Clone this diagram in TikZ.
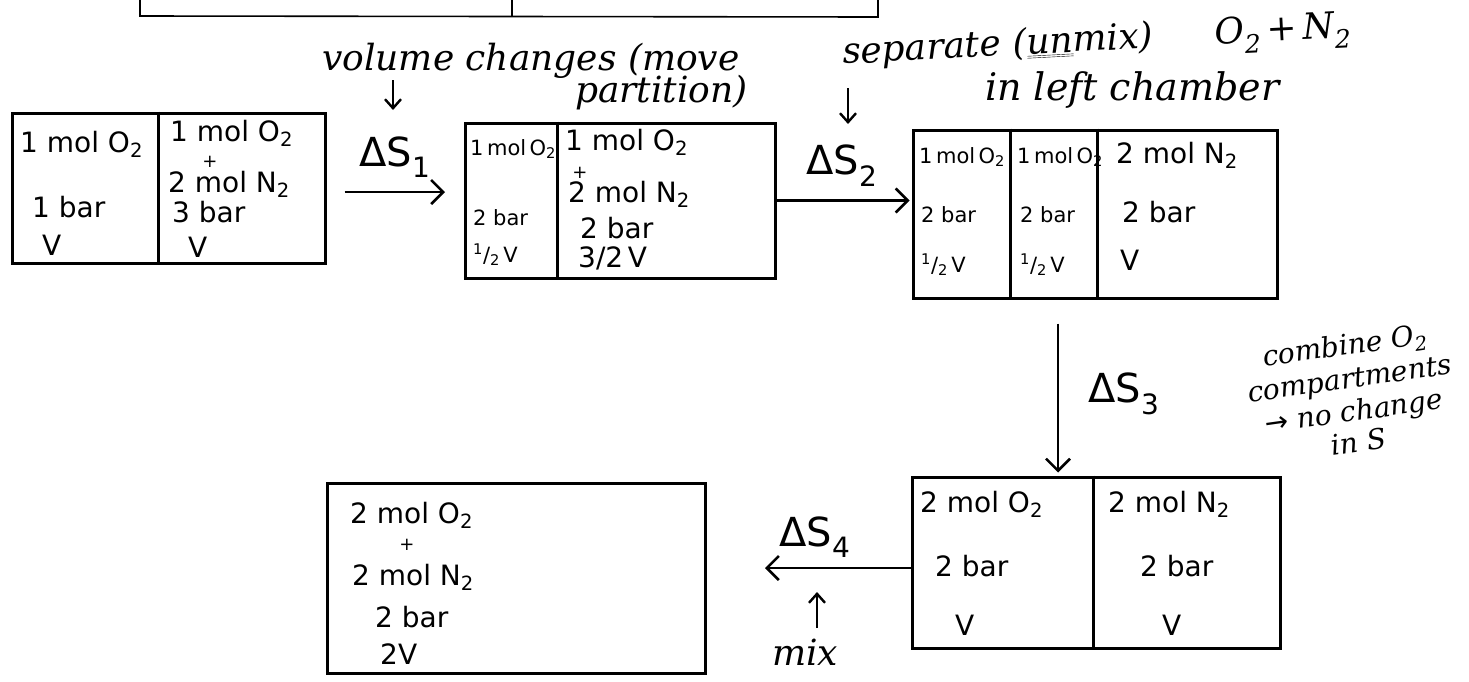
\documentclass[tikz,border=0pt]{standalone}
\usepackage{fontspec}
\usetikzlibrary{arrows.meta}
\newfontfamily\boxfont{DejaVu Sans}
\newfontfamily\notefont{DejaVu Serif}
\newcommand\halfof{\textsuperscript{1}/\textsubscript{2}}
\newcommand\subtwo{\textsubscript{2}}
\begin{document}
\begin{tikzpicture}[x=1pt,y=-1pt,
  box/.style={draw, line width=3pt, inner sep=0pt},
  wall/.style={line width=3pt},
  tablerule/.style={line width=1.6pt},
  cell/.style={anchor=base west, inner sep=0pt, font=\boxfont\fontsize{28}{30}\selectfont},
  narrow cell/.style={cell, font=\boxfont\fontsize{21}{24}\selectfont},
  plus/.style={inner sep=0pt, font=\boxfont\fontsize{18}{20}\selectfont},
  note/.style={inner sep=0pt, anchor=base west, font=\notefont\itshape\fontsize{36}{38}\selectfont},
  side note/.style={inner sep=0pt, anchor=base, rotate=8, font=\notefont\itshape\fontsize{28}{30}\selectfont},
  dlabel/.style={inner sep=0pt, anchor=base, font=\boxfont\fontsize{40}{44}\selectfont},
  arr/.style={line width=2.6pt, -{Straight Barb[length=12pt,width=24pt,line width=2.6pt]}},
  sarr/.style={line width=2.4pt, -{Straight Barb[length=9pt,width=16pt,line width=2.4pt]}}]
\useasboundingbox (0,0) rectangle (1469,681);

% table edge left over from the page above
\draw[tablerule] (140,-3) -- (140,16) -- (878,17) -- (878,-3);
\draw[tablerule] (512,-3) -- (512,16);

% ---------- state 1 ----------
\node[box, minimum width=313pt, minimum height=150pt] (b1) at (168.5,188) {};
\draw[wall] ([xshift=-10.5pt]b1.north) -- ([xshift=-10.5pt]b1.south);
\node[cell] (b1a) at (20,152) {1 mol O\subtwo};
\node[cell] (b1b) at (32,217) {1 bar};
\node[cell] (b1c) at (42,255) {V};
\node[cell] (b1d) at (170,141) {1 mol O\subtwo};
\node[plus] (b1e) at (210,162) {+};
\node[cell] (b1f) at (168,192) {2 mol N\subtwo};
\node[cell] (b1g) at (172,222) {3 bar};
\node[cell] (b1h) at (188,257) {V};

% ---------- state 2 ----------
\node[box, minimum width=310pt, minimum height=155pt] (b2) at (620,200.5) {};
\draw[wall] ([xshift=-63pt]b2.north) -- ([xshift=-63pt]b2.south);
\node[narrow cell] (b2a) at (470,155) {1\,mol\,O\subtwo};
\node[narrow cell] (b2b) at (473,225) {2 bar};
\node[narrow cell] (b2c) at (473,262) {\halfof\,V};
\node[cell] (b2d) at (565,150) {1 mol O\subtwo};
\node[plus] (b2e) at (580,173) {+};
\node[cell] (b2f) at (568,202) {2 mol N\subtwo};
\node[cell] (b2g) at (580,238) {2 bar};
\node[cell] (b2h) at (578,267) {3/2\,V};

% ---------- state 3 ----------
\node[box, minimum width=364pt, minimum height=168pt] (b3) at (1095,214) {};
\draw[wall] ([xshift=-85pt]b3.north) -- ([xshift=-85pt]b3.south);
\draw[wall] ([xshift=2pt]b3.north) -- ([xshift=2pt]b3.south);
\node[narrow cell] (b3a) at (919,163) {1\,mol\,O\subtwo};
\node[narrow cell] (b3b) at (921,222) {2 bar};
\node[narrow cell] (b3c) at (921,272) {\halfof\,V};
\node[narrow cell] (b3d) at (1017,163) {1\,mol\,O\subtwo};
\node[narrow cell] (b3e) at (1020,222) {2 bar};
\node[narrow cell] (b3f) at (1020,272) {\halfof\,V};
\node[cell] (b3g) at (1116,163) {2 mol N\subtwo};
\node[cell] (b3h) at (1122,222) {2 bar};
\node[cell] (b3i) at (1120,270) {V};

% ---------- state 4 ----------
\node[box, minimum width=368pt, minimum height=171pt] (b4) at (1096,562.5) {};
\draw[wall] ([xshift=-3pt]b4.north) -- ([xshift=-3pt]b4.south);
\node[cell] (b4a) at (920,512) {2 mol O\subtwo};
\node[cell] (b4b) at (935,576) {2 bar};
\node[cell] (b4c) at (955,635) {V};
\node[cell] (b4d) at (1108,512) {2 mol N\subtwo};
\node[cell] (b4e) at (1140,576) {2 bar};
\node[cell] (b4f) at (1162,635) {V};

% ---------- state 5 ----------
\node[box, minimum width=378pt, minimum height=190pt] (b5) at (516,578) {};
\node[cell] (b5a) at (350,523) {2 mol O\subtwo};
\node[plus] (b5b) at (407,545) {+};
\node[cell] (b5c) at (352,585) {2 mol N\subtwo};
\node[cell] (b5d) at (375,627) {2 bar};
\node[cell] (b5e) at (380,664) {2V};

% ---------- steps ----------
\coordinate (s1) at (445,192);
\draw[arr, shorten <=18pt] (b1.east |- s1) -- (s1);
\node[dlabel] (d1) at (395,166) {ΔS\textsubscript{1}};

\draw[arr, shorten >=2pt] (b2.east) -- (b3.west |- b2.east);
\node[dlabel] (d2) at (842,174) {ΔS\textsubscript{2}};

\draw[arr, shorten <=24pt, shorten >=3pt] ([xshift=-37pt]b3.south) -- ([xshift=-37pt]b3.south |- b4.north);
\node[dlabel] (d3) at (1124,402) {ΔS\textsubscript{3}};

\coordinate (s4) at (765,568);
\draw[arr] (b4.west |- s4) -- (s4);
\node[dlabel] (d4) at (815,546) {ΔS\textsubscript{4}};

% ---------- notes ----------
\node[note] (n1) at (322,70) {volume changes (move};
\node[note] (n1b) at (575,102) {partition)};
\coordinate (p1) at (393,80); \coordinate (q1) at (393,110);
\draw[sarr] (p1) -- (q1);

\node[note, rotate=3] (n2) at (843,64) {separate (\underline{\underline{un}}mix)\hspace{62pt}O\subtwo\,+\,N\subtwo};
\node[note, font=\notefont\itshape\fontsize{38}{40}\selectfont] (n2b) at (985,100) {in left chamber};
\coordinate (p2) at (848,88); \coordinate (q2) at (848,124);
\draw[sarr] (p2) -- (q2);

% tilted side remark beside the third step
\node[side note] (n3a) at (1346,355) {combine O\subtwo};
\node[side note] (n3b) at (1351,388) {compartments};
\node[side note] (n3c) at (1355,421) {{\boxfont →} no change};
\node[side note] (n3d) at (1360,452) {in S};

\node[note] (n4) at (772,665) {mix};
\coordinate (p3) at (817,628); \coordinate (q3) at (817,592);
\draw[sarr] (p3) -- (q3);
\end{tikzpicture}
\end{document}
